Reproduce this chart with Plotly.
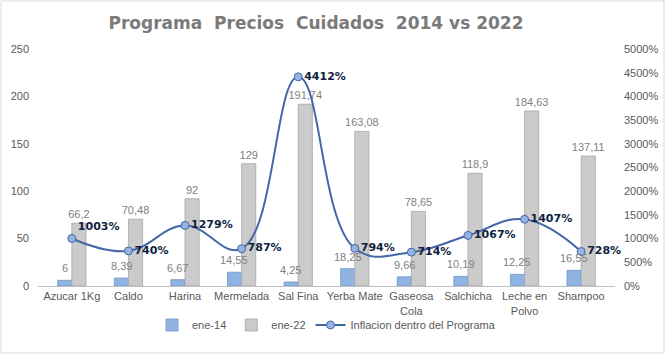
import plotly.graph_objects as go

categories = ["Azucar 1Kg", "Caldo", "Harina", "Mermelada", "Sal Fina", "Yerba Mate",
              "Gaseosa<br>Cola", "Salchicha", "Leche en<br>Polvo", "Shampoo"]
ene14 = [6, 8.39, 6.67, 14.55, 4.25, 18.25, 9.66, 10.19, 12.25, 16.55]
ene22 = [66.2, 70.48, 92, 129, 191.74, 163.08, 78.65, 118.9, 184.63, 137.11]
inflacion = [1003, 740, 1279, 787, 4412, 794, 714, 1067, 1407, 728]
left_ticks = [0, 50, 100, 150, 200, 250]
right_ticks = [0, 500, 1000, 1500, 2000, 2500, 3000, 3500, 4000, 4500, 5000]
right_labels = [f"{v}%" for v in right_ticks]

def fmt(v):
    return str(v).replace(".", ",")

W, H = 665, 354
L, R, T, B = 38, 50, 49, 68
GRAY = "#595959"
pw = W - L - R
ph = H - T - B
catw = pw / len(categories)
off = catw * 0.5 / 4  # half of one bar width

fig = go.Figure()
fig.add_trace(go.Bar(
    x=categories, y=ene14, name="ene-14",
    marker=dict(color="#8fb4e3", line=dict(color="#6f95c8", width=0.8)),
))
fig.add_trace(go.Bar(
    x=categories, y=ene22, name="ene-22",
    marker=dict(color="#cbcbcb", line=dict(color="#a6a6a6", width=0.8)),
    text=[fmt(v) for v in ene22], textposition="outside", constraintext="none",
    textfont=dict(color="#7f7f7f", size=11, family="Liberation Sans"),
    cliponaxis=False,
))
pos = ["top right"] + ["middle right"] * 9
fig.add_trace(go.Scatter(
    x=categories, y=inflacion, name="Inflacion dentro del Programa", yaxis="y2",
    mode="lines+markers+text",
    line=dict(color="#4467a8", width=2, shape="spline", smoothing=1.2),
    marker=dict(color="#95b3e0", size=8, line=dict(color="#4467a8", width=1)),
    text=[f"<b>{v}%</b>" for v in inflacion], textposition=pos,
    textfont=dict(color="#0f1f40", size=11, family="DejaVu Sans"),
    cliponaxis=False,
))

for c, v in zip(categories, ene14):
    fig.add_annotation(x=c, y=v, xref="x", yref="y", text=fmt(v), showarrow=False,
                       xshift=-off, yanchor="bottom", yshift=4,
                       font=dict(color="#7f7f7f", size=11, family="Liberation Sans"))

fig.update_layout(
    template="none",
    width=W, height=H,
    margin=dict(l=L, r=R, t=T, b=B),
    paper_bgcolor="white", plot_bgcolor="white",
    title=dict(text="<b>Programa  Precios  Cuidados  2014 vs 2022</b>",
               x=316 / W, xanchor="center", y=1 - 23 / H, yanchor="middle",
               font=dict(size=17, color="#7a7a7a", family="DejaVu Sans")),
    barmode="group", bargap=0.5, bargroupgap=0.0,
    xaxis=dict(showline=True, linecolor="#bfbfbf", linewidth=1, ticks="",
               showgrid=False, zeroline=False, color=GRAY,
               tickfont=dict(size=11, color=GRAY, family="Liberation Sans")),
    yaxis=dict(range=[0, 250], tickvals=left_ticks, showgrid=False, zeroline=False,
               showline=False, ticks="", color=GRAY,
               tickfont=dict(size=11, color=GRAY, family="Liberation Sans"),
               ticklabelstandoff=8),
    yaxis2=dict(range=[0, 5000], tickmode="array", tickvals=right_ticks,
                ticktext=right_labels,
                overlaying="y", side="right", ticks="",
                showgrid=False, zeroline=False, showline=False, color=GRAY,
                tickfont=dict(size=11, color=GRAY, family="Liberation Sans"),
                ticklabelstandoff=8),
    legend=dict(orientation="h", x=0.5, xanchor="center",
                y=-(325 - 286) / ph, yanchor="middle", bgcolor="rgba(0,0,0,0)",
                font=dict(size=11, color=GRAY, family="Liberation Sans")),
    showlegend=True,
)

fig.add_shape(type="rect", xref="paper", yref="paper",
              x0=(-L + 1) / pw, x1=(W - L - 1) / pw,
              y0=(-B + 1) / ph, y1=(H - B - 1) / ph,
              line=dict(color="#d9d9d9", width=1), layer="below")

fig.write_html("out.html")
